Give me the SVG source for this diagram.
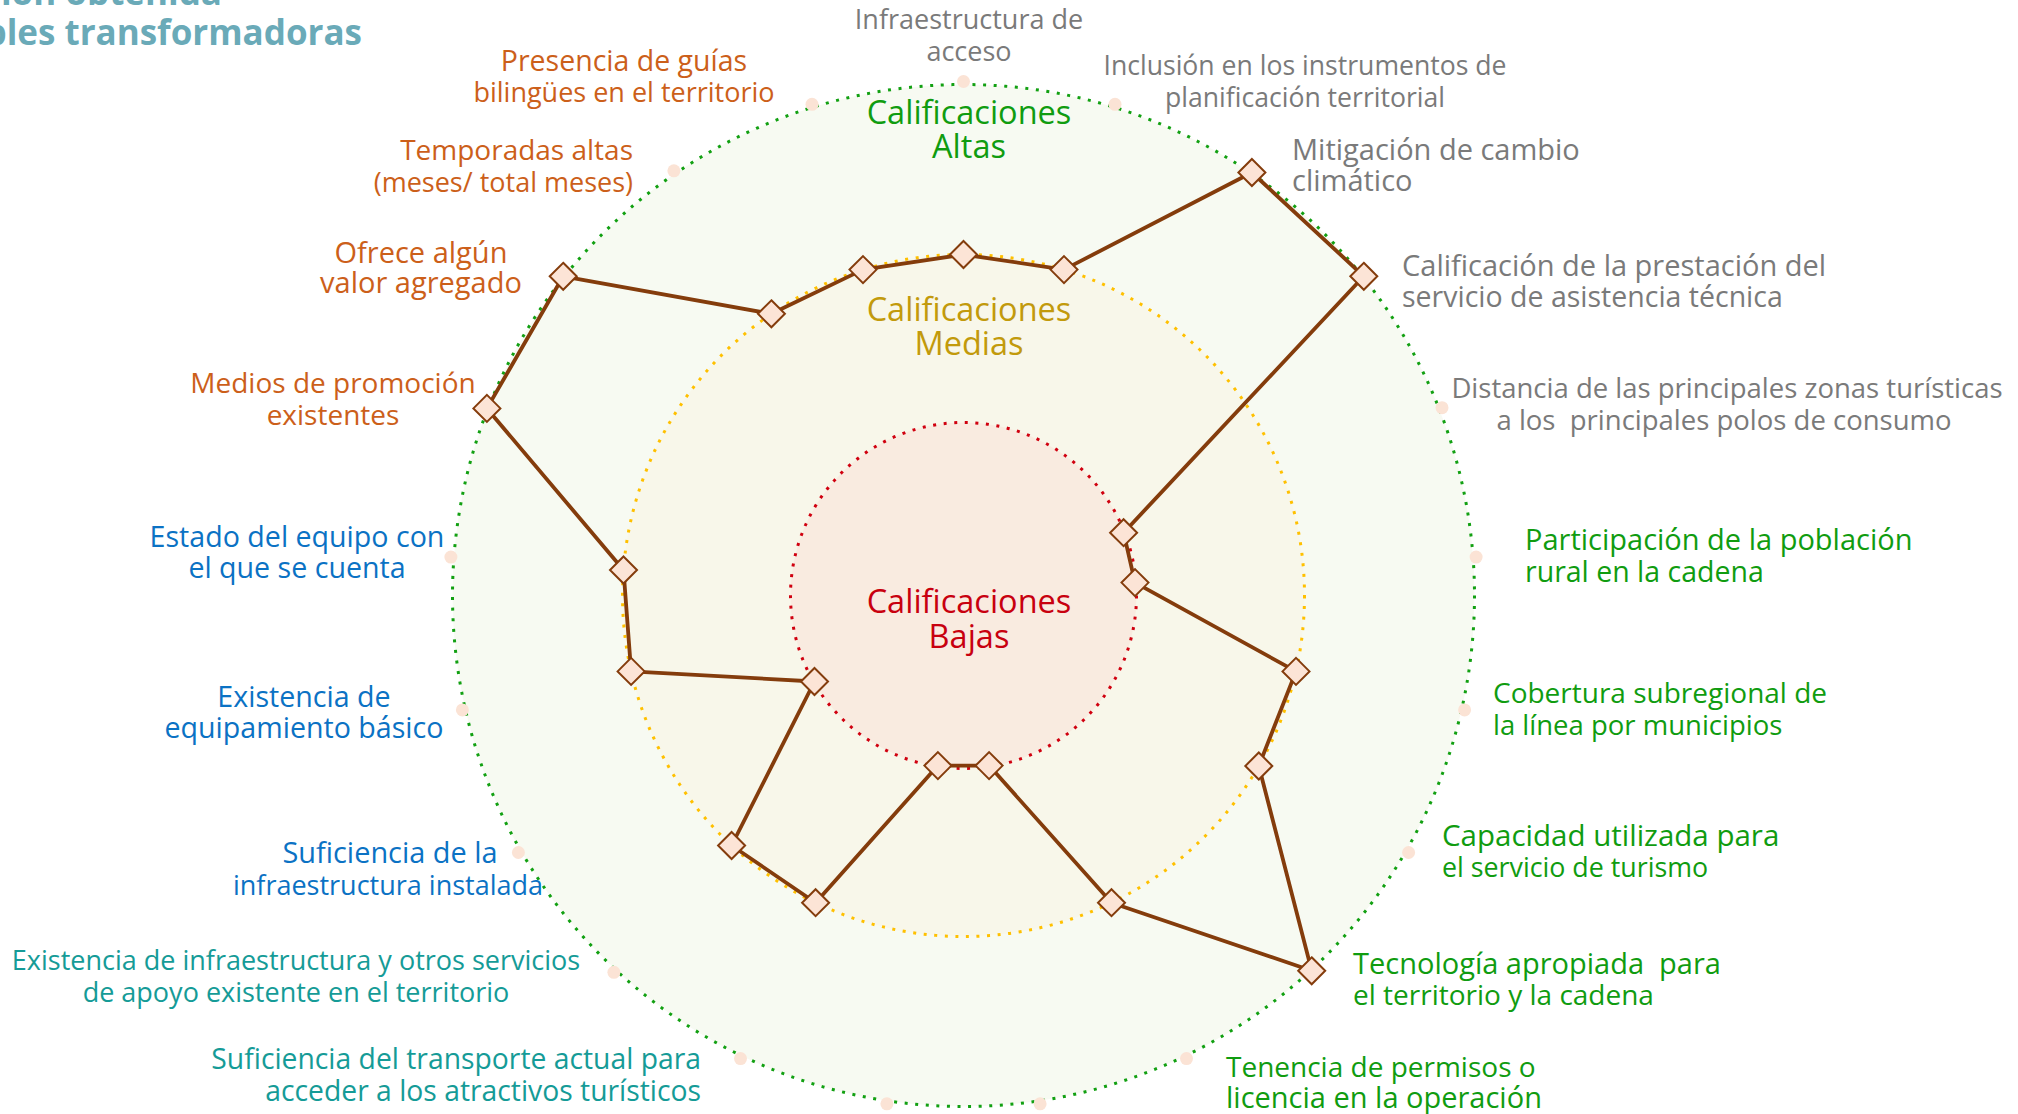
<svg xmlns="http://www.w3.org/2000/svg" width="2018" height="1114" viewBox="0 0 2018 1114">
<defs>
<style>
text{font-family:"Open Sans","Liberation Sans",sans-serif;font-size:28px}
.c{text-anchor:middle}
.e{text-anchor:end}
.gray{fill:#7a7a7a}
.grn{fill:#109c10}
.org{fill:#cc5f1a}
.blu{fill:#0b72c4}
.teal{fill:#159b97}
.cat{font-size:32.5px;text-anchor:middle}
.mk{fill:#fbe3d5}
.dia{fill:#fce4d6;stroke:#843c0c;stroke-width:2}
.ring{stroke-width:3;stroke-dasharray:3 7.6}
</style>
<path id="d" class="dia" d="M0,-13.5 L13.5,0 L0,13.5 L-13.5,0Z"/>
</defs>
<rect width="2018" height="1114" fill="#ffffff"/>
<g id="title" fill="#6aaab8">
<text style="font-size:35px;font-weight:bold;text-anchor:end"><tspan x="222" y="5">ción obtenida</tspan><tspan x="362" y="45">bles transformadoras</tspan></text>
</g>
<g id="rings">
<circle cx="963.5" cy="595.5" r="511" fill="#f7faf2" stroke="#12a012" class="ring"/>
<circle cx="963.5" cy="595.5" r="341" fill="#f8f7ea" stroke="#ffc000" class="ring"/>
<circle cx="963.5" cy="595.5" r="173" fill="#f9ebe0" stroke="#d0000f" class="ring"/>
</g>
<g id="axis-markers">
<circle class="mk" cx="963.5" cy="81.5" r="6.5"/>
<circle class="mk" cx="1115.0" cy="104.3" r="6.5"/>
<circle class="mk" cx="1253.1" cy="170.8" r="6.5"/>
<circle class="mk" cx="1365.4" cy="275.0" r="6.5"/>
<circle class="mk" cx="1442.0" cy="407.7" r="6.5"/>
<circle class="mk" cx="1476.1" cy="557.1" r="6.5"/>
<circle class="mk" cx="1464.6" cy="709.9" r="6.5"/>
<circle class="mk" cx="1408.6" cy="852.5" r="6.5"/>
<circle class="mk" cx="1313.1" cy="972.3" r="6.5"/>
<circle class="mk" cx="1186.5" cy="1058.6" r="6.5"/>
<circle class="mk" cx="1040.1" cy="1103.8" r="6.5"/>
<circle class="mk" cx="886.9" cy="1103.8" r="6.5"/>
<circle class="mk" cx="740.5" cy="1058.6" r="6.5"/>
<circle class="mk" cx="613.9" cy="972.3" r="6.5"/>
<circle class="mk" cx="518.4" cy="852.5" r="6.5"/>
<circle class="mk" cx="462.4" cy="709.9" r="6.5"/>
<circle class="mk" cx="450.9" cy="557.1" r="6.5"/>
<circle class="mk" cx="485.0" cy="407.7" r="6.5"/>
<circle class="mk" cx="561.6" cy="275.0" r="6.5"/>
<circle class="mk" cx="673.9" cy="170.8" r="6.5"/>
<circle class="mk" cx="812.0" cy="104.3" r="6.5"/>
</g>
<g id="cat-altas" class="grn">
<text class="cat"><tspan x="969" y="124">Calificaciones</tspan><tspan x="969" y="158">Altas</tspan></text>
</g>
<g id="cat-medias" fill="#c29a0c">
<text class="cat"><tspan x="969" y="321">Calificaciones</tspan><tspan x="969" y="355">Medias</tspan></text>
</g>
<g id="cat-bajas" fill="#c8000f">
<text class="cat"><tspan x="969" y="613">Calificaciones</tspan><tspan x="969" y="648">Bajas</tspan></text>
</g>
<g id="connectors">
<polygon fill="none" stroke="#843c0c" stroke-width="3.8" stroke-linejoin="round" points="963.5,254.5 1064.0,269.6 1251.9,172.5 1363.8,276.3 1123.6,532.7 1135.0,582.6 1296.0,671.4 1258.8,766.0 1311.7,970.8 1111.5,902.7 989.1,765.6 937.9,765.6 815.6,902.7 731.6,845.5 814.5,681.5 631.1,671.4 623.5,570.0 486.9,408.4 563.2,276.3 771.4,313.8 863.0,269.6"/>
</g>
<g id="points">
<use href="#d" x="963.5" y="254.5"/>
<use href="#d" x="1064.0" y="269.6"/>
<use href="#d" x="1251.9" y="172.5"/>
<use href="#d" x="1363.8" y="276.3"/>
<use href="#d" x="1123.6" y="532.7"/>
<use href="#d" x="1135.0" y="582.6"/>
<use href="#d" x="1296.0" y="671.4"/>
<use href="#d" x="1258.8" y="766.0"/>
<use href="#d" x="1311.7" y="970.8"/>
<use href="#d" x="1111.5" y="902.7"/>
<use href="#d" x="989.1" y="765.6"/>
<use href="#d" x="937.9" y="765.6"/>
<use href="#d" x="815.6" y="902.7"/>
<use href="#d" x="731.6" y="845.5"/>
<use href="#d" x="814.5" y="681.5"/>
<use href="#d" x="631.1" y="671.4"/>
<use href="#d" x="623.5" y="570.0"/>
<use href="#d" x="486.9" y="408.4"/>
<use href="#d" x="563.2" y="276.3"/>
<use href="#d" x="771.4" y="313.8"/>
<use href="#d" x="863.0" y="269.6"/>
</g>
<g id="lbl-infraestructura-acceso" class="gray">
<text class="c" style="font-size:27px"><tspan x="969" y="29">Infraestructura de</tspan><tspan x="969" y="61">acceso</tspan></text>
</g>
<g id="lbl-inclusion" class="gray">
<text class="c" style="font-size:26.6px"><tspan x="1305" y="75">Inclusión en los instrumentos de</tspan><tspan x="1305" y="107">planificación territorial</tspan></text>
</g>
<g id="lbl-mitigacion" class="gray">
<text style="font-size:29px"><tspan x="1292" y="160">Mitigación de cambio</tspan><tspan x="1292" y="191">climático</tspan></text>
</g>
<g id="lbl-calificacion" class="gray">
<text style="font-size:29px"><tspan x="1402" y="276">Calificación de la prestación del</tspan><tspan x="1402" y="307" style="font-size:28.5px">servicio de asistencia técnica</tspan></text>
</g>
<g id="lbl-distancia" class="gray">
<text class="c" style="font-size:27.5px" xml:space="preserve"><tspan x="1727" y="398">Distancia de las principales zonas turísticas</tspan><tspan x="1724" y="430">a los  principales polos de consumo</tspan></text>
</g>
<g id="lbl-participacion" class="grn">
<text style="font-size:29px"><tspan x="1525" y="550">Participación de la población</tspan><tspan x="1525" y="582" style="font-size:28.5px">rural en la cadena</tspan></text>
</g>
<g id="lbl-cobertura" class="grn">
<text><tspan x="1493" y="703">Cobertura subregional de</tspan><tspan x="1493" y="735" style="font-size:27.5px">la línea por municipios</tspan></text>
</g>
<g id="lbl-capacidad" class="grn">
<text style="font-size:29.5px"><tspan x="1442" y="846">Capacidad utilizada para</tspan><tspan x="1442" y="877" style="font-size:26.8px">el servicio de turismo</tspan></text>
</g>
<g id="lbl-tecnologia" class="grn">
<text style="font-size:29px" xml:space="preserve"><tspan x="1353" y="974">Tecnología apropiada  para</tspan><tspan x="1353" y="1005" style="font-size:28px">el territorio y la cadena</tspan></text>
</g>
<g id="lbl-tenencia" class="grn">
<text><tspan x="1226" y="1077">Tenencia de permisos o</tspan><tspan x="1226" y="1108" style="font-size:29px">licencia en la operación</tspan></text>
</g>
<g id="lbl-guias" class="org">
<text class="c" style="font-size:28.5px"><tspan x="624" y="71">Presencia de guías</tspan><tspan x="624" y="102" style="font-size:27px">bilingües en el territorio</tspan></text>
</g>
<g id="lbl-temporadas" class="org">
<text class="e"><tspan x="633" y="160">Temporadas altas</tspan><tspan x="633" y="192" style="font-size:27px">(meses/ total meses)</tspan></text>
</g>
<g id="lbl-valor" class="org">
<text class="c" style="font-size:29px"><tspan x="421" y="263">Ofrece algún</tspan><tspan x="421" y="293">valor agregado</tspan></text>
</g>
<g id="lbl-promocion" class="org">
<text class="c"><tspan x="333" y="393">Medios de promoción</tspan><tspan x="333" y="425">existentes</tspan></text>
</g>
<g id="lbl-estado" class="blu">
<text class="c" style="font-size:28.6px"><tspan x="297" y="547">Estado del equipo con</tspan><tspan x="297" y="578">el que se cuenta</tspan></text>
</g>
<g id="lbl-equipamiento" class="blu">
<text class="c" style="font-size:28.6px"><tspan x="304" y="707">Existencia de</tspan><tspan x="304" y="738">equipamiento básico</tspan></text>
</g>
<g id="lbl-suficiencia-infra" class="blu">
<text class="c" style="font-size:28.9px"><tspan x="390" y="863">Suficiencia de la</tspan><tspan x="388" y="895" style="font-size:27px">infraestructura instalada</tspan></text>
</g>
<g id="lbl-servicios-apoyo" class="teal">
<text class="c" style="font-size:27px"><tspan x="296" y="970">Existencia de infraestructura y otros servicios</tspan><tspan x="296" y="1002">de apoyo existente en el territorio</tspan></text>
</g>
<g id="lbl-transporte" class="teal">
<text class="e" style="font-size:28.3px"><tspan x="701" y="1069">Suficiencia del transporte actual para</tspan><tspan x="701" y="1101">acceder a los atractivos turísticos</tspan></text>
</g>
</svg>
